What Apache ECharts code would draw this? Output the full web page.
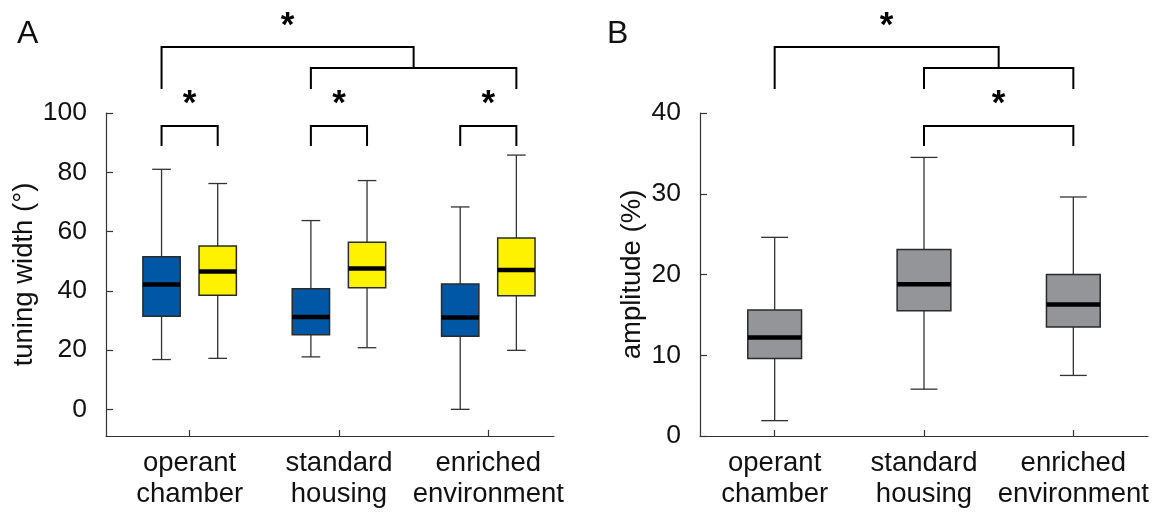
<!DOCTYPE html>
<html>
<head>
<meta charset="utf-8">
<script src="https://cdn.jsdelivr.net/npm/echarts@6/dist/echarts.min.js"></script>
<style>
  html, body { margin: 0; padding: 0; background: #fff; }
  #chart { width: 1160px; height: 512px; }
</style>
</head>
<body>
<div id="chart"></div>
<script>
// x categories (group positions 1, 2, 3)
var categories = ['operant\nchamber', 'standard\nhousing', 'enriched\nenvironment'];

// panel A, tuning width (°): [min, Q1, median, Q3, max]
var tuningBlue = [
  [16.8, 31.4, 42.1, 51.5, 81.0],
  [17.7, 25.2, 31.2, 40.7, 63.7],
  [0.0, 24.7, 31.0, 42.3, 68.3]
];
var tuningYellow = [
  [17.2, 38.5, 46.5, 55.1, 76.2],
  [20.8, 41.0, 47.5, 56.4, 77.2],
  [19.9, 38.3, 47.0, 57.8, 85.8]
];

// panel B, amplitude (%): [min, Q1, median, Q3, max]
var amplitude = [
  [1.9, 9.6, 12.2, 15.6, 24.6],
  [5.8, 15.5, 18.8, 23.1, 34.5],
  [7.5, 13.5, 16.3, 20.0, 29.6]
];

var tuningTicks = [0, 20, 40, 60, 80, 100];
var amplitudeTicks = [0, 10, 20, 30, 40];

var FONT = "'Liberation Sans', Arial, Helvetica, sans-serif";
var pairShift = 0.188; // blue / yellow offset from the group centre

function withX(list, shift) {
  return list.map(function (d, i) { return [i + 1 + shift].concat(d); });
}

// box + whisker, median drawn as thick black bar
function boxRender(boxW) {
  return function (params, api) {
    var x = api.value(0);
    var pMin = api.coord([x, api.value(1)]);
    var pQ1 = api.coord([x, api.value(2)]);
    var pMed = api.coord([x, api.value(3)]);
    var pQ3 = api.coord([x, api.value(4)]);
    var pMax = api.coord([x, api.value(5)]);
    var w = api.size([boxW, 0])[0];
    var cx = pMed[0];
    var wStyle = { stroke: '#333', lineWidth: 1.3 };
    return {
      type: 'group',
      children: [
        { type: 'line', shape: { x1: cx, y1: pMin[1], x2: cx, y2: pMax[1] }, style: wStyle },
        { type: 'line', shape: { x1: cx - w / 4, y1: pMin[1], x2: cx + w / 4, y2: pMin[1] }, style: wStyle },
        { type: 'line', shape: { x1: cx - w / 4, y1: pMax[1], x2: cx + w / 4, y2: pMax[1] }, style: wStyle },
        { type: 'rect', shape: { x: cx - w / 2, y: pQ3[1], width: w, height: pQ1[1] - pQ3[1] },
          style: { fill: api.visual('color'), stroke: '#2a2a2a', lineWidth: 1.5 } },
        { type: 'line', shape: { x1: cx - w / 2, y1: pMed[1], x2: cx + w / 2, y2: pMed[1] },
          style: { stroke: '#000', lineWidth: 4.5 } }
      ]
    };
  };
}

function star(x, y) {
  return {
    type: 'text',
    style: { text: '*', x: x, y: y, fill: '#000', font: 'bold 35px ' + FONT,
      align: 'center', verticalAlign: 'middle', textAlign: 'center', textVerticalAlign: 'middle' }
  };
}

// simple bracket: [xLeft, xRight, yTop]
function pairBracket(params, api) {
  var a = api.coord([api.value(0), api.value(2)]);
  var b = api.coord([api.value(1), api.value(2)]);
  var top = a[1];
  var y = top + 13, yb = top + 33;
  return {
    type: 'group',
    children: [
      { type: 'polyline', shape: { points: [[a[0], yb], [a[0], y], [b[0], y], [b[0], yb]] },
        style: { fill: 'none', stroke: '#000', lineWidth: 2 } },
      star((a[0] + b[0]) / 2, top - 9)
    ]
  };
}

// nested bracket: [xLeft, xInnerLeft, xInnerRight, yTop]
function nestedBracket(params, api) {
  var yv = api.value(3);
  var p1 = api.coord([api.value(0), yv]);
  var pa = api.coord([api.value(1), yv]);
  var pb = api.coord([api.value(2), yv]);
  var top = p1[1];
  var yUp = top - 66, yLow = top - 45, yLeg = top - 24;
  var mid = (pa[0] + pb[0]) / 2;
  var s = { fill: 'none', stroke: '#000', lineWidth: 2 };
  return {
    type: 'group',
    children: [
      { type: 'polyline', shape: { points: [[pa[0], yLeg], [pa[0], yLow], [pb[0], yLow], [pb[0], yLeg]] }, style: s },
      { type: 'polyline', shape: { points: [[p1[0], yLeg], [p1[0], yUp], [mid, yUp], [mid, yLow]] }, style: s },
      star((p1[0] + mid) / 2, top - 87)
    ]
  };
}

var pairsA = [1, 2, 3].map(function (g) { return [g - pairShift, g + pairShift, 100]; });
var nestedA = [[1 - pairShift, 2 - pairShift, 3 + pairShift, 100]];
var pairsB = [[2, 3, 40]];
var nestedB = [[1, 2, 3, 40]];

function xAxisCfg(gridIndex, min, max) {
  return {
    type: 'value', gridIndex: gridIndex, min: min, max: max,
    splitLine: { show: false },
    axisLine: { onZero: false, lineStyle: { color: '#333', width: 1.2 } },
    axisTick: { inside: true, length: 6, customValues: [1, 2, 3], lineStyle: { color: '#333', width: 1.2 } },
    axisLabel: {
      customValues: [1, 2, 3], margin: 12, fontSize: 27.5, lineHeight: 31, color: '#111', fontFamily: FONT,
      formatter: function (v) { return categories[Math.round(v) - 1] || ''; }
    }
  };
}

function yAxisCfg(gridIndex, min, max, ticks, name, gap) {
  return {
    type: 'value', gridIndex: gridIndex, min: min, max: max,
    splitLine: { show: false },
    axisLine: { show: true, onZero: false, lineStyle: { color: '#333', width: 1.2 } },
    axisTick: { show: true, inside: true, length: 7, customValues: ticks, lineStyle: { color: '#333', width: 1.2 } },
    axisLabel: { customValues: ticks, margin: 19, fontSize: 26.5, color: '#111', fontFamily: FONT },
    name: name, nameLocation: 'middle', nameGap: gap,
    nameTextStyle: { fontSize: 27.5, color: '#111', fontFamily: FONT }
  };
}

var chart = echarts.init(document.getElementById('chart'), null, { renderer: 'canvas' });

chart.setOption({
  animation: false,
  backgroundColor: '#fff',
  textStyle: { fontFamily: FONT },
  title: [
    { text: 'A', left: 12, top: 13, textStyle: { fontSize: 32, fontWeight: 'normal', color: '#111', fontFamily: FONT } },
    { text: 'B', left: 602, top: 13, textStyle: { fontSize: 32, fontWeight: 'normal', color: '#111', fontFamily: FONT } }
  ],
  grid: [
    { left: 106, top: 113, width: 448, height: 323, containLabel: false, outerBoundsMode: 'none' },
    { left: 700, top: 113, width: 448, height: 323, containLabel: false, outerBoundsMode: 'none' }
  ],
  xAxis: [xAxisCfg(0, 0.44, 3.44), xAxisCfg(1, 0.5, 3.5)],
  yAxis: [
    yAxisCfg(0, -9, 100, tuningTicks, 'tuning width (°)', 67),
    yAxisCfg(1, 0, 40, amplitudeTicks, 'amplitude (%)', 54)
  ],
  series: [
    { type: 'custom', name: 'blue', xAxisIndex: 0, yAxisIndex: 0, itemStyle: { color: '#0057a6' },
      renderItem: boxRender(0.25), encode: { x: 0, y: [1, 2, 3, 4, 5] }, data: withX(tuningBlue, -pairShift) },
    { type: 'custom', name: 'yellow', xAxisIndex: 0, yAxisIndex: 0, itemStyle: { color: '#fff200' },
      renderItem: boxRender(0.25), encode: { x: 0, y: [1, 2, 3, 4, 5] }, data: withX(tuningYellow, pairShift) },
    { type: 'custom', name: 'amplitude', xAxisIndex: 1, yAxisIndex: 1, itemStyle: { color: '#939598' },
      renderItem: boxRender(0.36), encode: { x: 0, y: [1, 2, 3, 4, 5] }, data: withX(amplitude, 0) },
    { type: 'custom', xAxisIndex: 0, yAxisIndex: 0, clip: false, silent: true,
      renderItem: pairBracket, encode: { x: [0, 1], y: 2 }, data: pairsA },
    { type: 'custom', xAxisIndex: 0, yAxisIndex: 0, clip: false, silent: true,
      renderItem: nestedBracket, encode: { x: [0, 1, 2], y: 3 }, data: nestedA },
    { type: 'custom', xAxisIndex: 1, yAxisIndex: 1, clip: false, silent: true,
      renderItem: pairBracket, encode: { x: [0, 1], y: 2 }, data: pairsB },
    { type: 'custom', xAxisIndex: 1, yAxisIndex: 1, clip: false, silent: true,
      renderItem: nestedBracket, encode: { x: [0, 1, 2], y: 3 }, data: nestedB }
  ]
});
</script>
</body>
</html>
